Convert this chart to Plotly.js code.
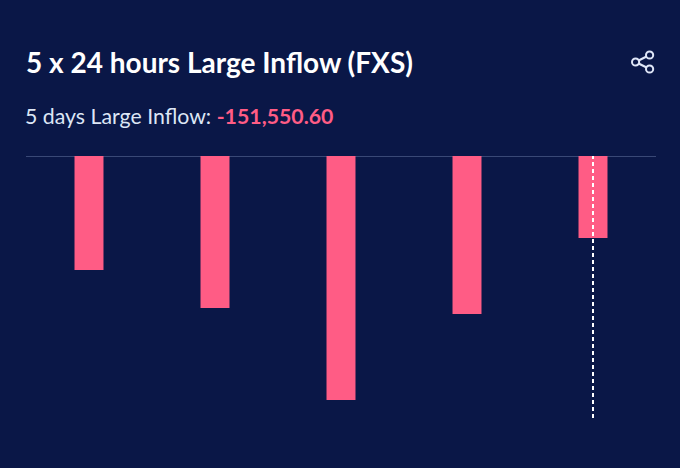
<!DOCTYPE html>
<html>
<head>
<meta charset="utf-8">
<script src="https://cdn.plot.ly/plotly-3.0.1.min.js"></script>
<style>html,body{margin:0;padding:0;background:#0a1747;overflow:hidden}</style>
</head>
<body>
<div id="chart" style="width:680px;height:468px"></div>
<script>
const days = ["Day 1", "Day 2", "Day 3", "Day 4", "Day 5"];
const inflow = [-23040, -30710, -49300, -31920, -16580.6];
const titleText = "5 x 24 hours Large Inflow (FXS)";
const subLabel = "5 days Large Inflow: ";
const subValue = "-151,550.60";
const W = 680, H = 468, L = 26.4, R = 23.6, T = 156, B = 50;
const px = v => (v - L) / (W - L - R), py = v => 1 - (v - T) / (H - T - B);
function icon() {
  const c = [[636, 62], [650, 55], [650, 69]], r = 3.6, col = "#dfe6f7", out = [];
  [1, 2].forEach(i => out.push({type: "line", xref: "paper", yref: "paper", x0: px(c[0][0]), y0: py(c[0][1]), x1: px(c[i][0]), y1: py(c[i][1]), line: {color: col, width: 2}}));
  c.forEach(p => out.push({type: "circle", xref: "paper", yref: "paper", x0: px(p[0] - r), x1: px(p[0] + r), y0: py(p[1] - r), y1: py(p[1] + r), fillcolor: "#0a1747", line: {color: col, width: 2}}));
  return out;
}
const layout = {
  width: W, height: H,
  paper_bgcolor: "#0a1747", plot_bgcolor: "#0a1747",
  margin: {l: L, r: R, t: T, b: B},
  showlegend: false,
  bargap: 0.77,
  title: {text: "<b>" + titleText + "</b>", x: 26 / W, xanchor: "left", xref: "container", y: 1 - 63 / H, yanchor: "middle",
    font: {family: "Lato, sans-serif", size: 28, color: "#ffffff"}},
  xaxis: {type: "category", range: [-0.5, 4.5], showgrid: false, zeroline: false, showticklabels: false, ticks: "", showline: false},
  yaxis: {range: [-52940, 0], showgrid: false, zeroline: false, showticklabels: false, ticks: "", showline: false},
  annotations: [{xref: "paper", yref: "paper", x: px(24), y: py(116), xanchor: "left", yanchor: "middle", showarrow: false, align: "left", borderpad: 0,
    text: '<span style="color:#dde6f5">' + subLabel + '</span><span style="color:#ff5c85"><b>' + subValue + '</b></span>',
    font: {family: "Lato, sans-serif", size: 21.3}}],
  shapes: [
    {type: "line", xref: "paper", yref: "y", x0: 0, x1: 1, y0: 0, y1: 0, line: {color: "#4a5a86", width: 1.5}, layer: "below"},
    {type: "line", xref: "x", yref: "paper", x0: days[4], x1: days[4], y0: 0, y1: 1, line: {color: "#ffffff", width: 2, dash: "4px,3px"}, layer: "above"}
  ].concat(icon())
};
Plotly.newPlot("chart", [{type: "bar", x: days, y: inflow, marker: {color: "#ff5c85", line: {width: 0}}, hoverinfo: "y"}], layout, {displayModeBar: false});
</script>
</body>
</html>
